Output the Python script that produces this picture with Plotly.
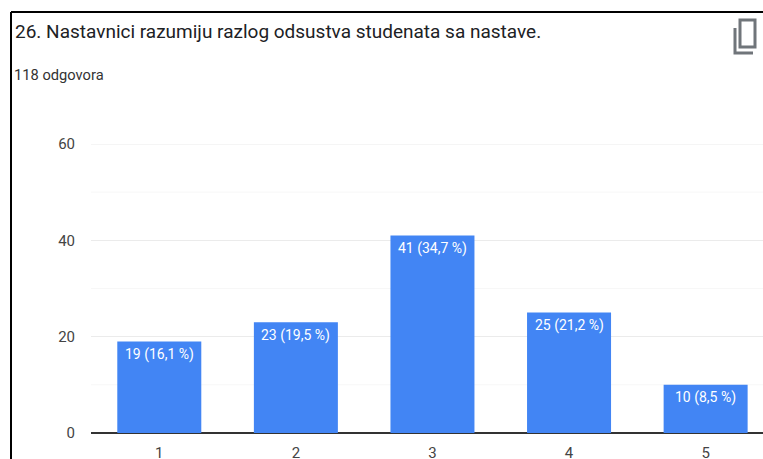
import plotly.graph_objects as go

categories = ["1", "2", "3", "4", "5"]
counts = [19, 23, 41, 25, 10]
bar_labels = ["19 (16,1 %)", "23 (19,5 %)", "41 (34,7 %)", "25 (21,2 %)", "10 (8,5 %)"]
y_ticks = [0, 20, 40, 60]
minor_ticks = [10, 30, 50]
title_text = "26. Nastavnici razumiju razlog odsustva studenata sa nastave."
subtitle_text = "118 odgovora"

W, H = 763, 459
L, R, T, B = 91, 0, 144, 26
FONT = "Roboto, sans-serif"
pw = W - L - R
ph = H - T - B


def ax(x):
    return (x - L) / pw


def ay(y):
    return 1 - (y - T) / ph


fig = go.Figure(
    go.Bar(
        x=categories,
        y=counts,
        marker=dict(color="#4285f4", line=dict(width=0)),
        width=0.615,
    )
)

annotations = [
    dict(text=title_text, xref="paper", yref="paper", x=ax(12.5), y=ay(31), xanchor="left", yanchor="middle",
         showarrow=False, font=dict(family=FONT, size=19, color="#202124")),
    dict(text=subtitle_text, xref="paper", yref="paper", x=ax(12), y=ay(75), xanchor="left", yanchor="middle",
         showarrow=False, font=dict(family=FONT, size=14.7, color="#333333")),
]
for i, (v, t) in enumerate(zip(counts, bar_labels)):
    annotations.append(dict(text=t, x=i, y=v, xref="x", yref="y", yanchor="middle", xanchor="center", yshift=-13,
                            showarrow=False, font=dict(family=FONT, size=14, color="#ffffff")))

shapes = []
for v in minor_ticks:
    shapes.append(dict(type="line", xref="paper", x0=0, x1=1, yref="y", y0=v, y1=v,
                       line=dict(color="#f7f7f7", width=1), layer="below"))
# top gridline sits exactly on the axis limit
shapes.append(dict(type="line", xref="paper", x0=0, x1=1, yref="y", y0=y_ticks[-1], y1=y_ticks[-1],
                   line=dict(color="#ebebeb", width=1), layer="below"))

# frame of the screenshot
for x0, y0, x1, y1 in [(11, 12, 763, 12), (11, 12, 11, 459)]:
    shapes.append(dict(type="line", xref="paper", yref="paper", x0=ax(x0), x1=ax(x1), y0=ay(y0), y1=ay(y1),
                       line=dict(color="#000000", width=2)))

# copy icon
icon = "#70757a"
shapes.append(dict(type="rect", xref="paper", yref="paper", x0=ax(740), x1=ax(755), y0=ay(20), y1=ay(47),
                   line=dict(color=icon, width=3), fillcolor="rgba(0,0,0,0)"))
shapes.append(dict(type="path", xref="paper", yref="paper",
                   path=f"M {ax(735)} {ay(28)} L {ax(735)} {ay(53)} L {ax(753)} {ay(53)}",
                   line=dict(color=icon, width=3)))

fig.update_layout(
    width=W,
    height=H,
    autosize=False,
    margin=dict(l=L, r=R, t=T, b=B, pad=0),
    paper_bgcolor="#ffffff",
    plot_bgcolor="#ffffff",
    showlegend=False,
    xaxis=dict(
        type="category",
        range=[-0.5, 4.42],
        tickfont=dict(family=FONT, size=15, color="#444444"),
        showgrid=False,
        showline=False,
        ticks="",
        ticklabelstandoff=9,
        automargin=False,
        fixedrange=True,
    ),
    yaxis=dict(
        range=[0, 60],
        tickvals=y_ticks,
        tickfont=dict(family=FONT, size=15, color="#444444"),
        gridcolor="#ebebeb",
        gridwidth=1,
        zeroline=True,
        zerolinecolor="#333333",
        zerolinewidth=1.5,
        showline=False,
        ticks="",
        ticklabelstandoff=15,
        automargin=False,
        fixedrange=True,
    ),
    annotations=annotations,
    shapes=shapes,
)

fig.write_html(
    "out.html",
    config={"displayModeBar": False, "responsive": False},
    post_script="document.body.style.margin='0';document.body.style.overflow='hidden';",
)
